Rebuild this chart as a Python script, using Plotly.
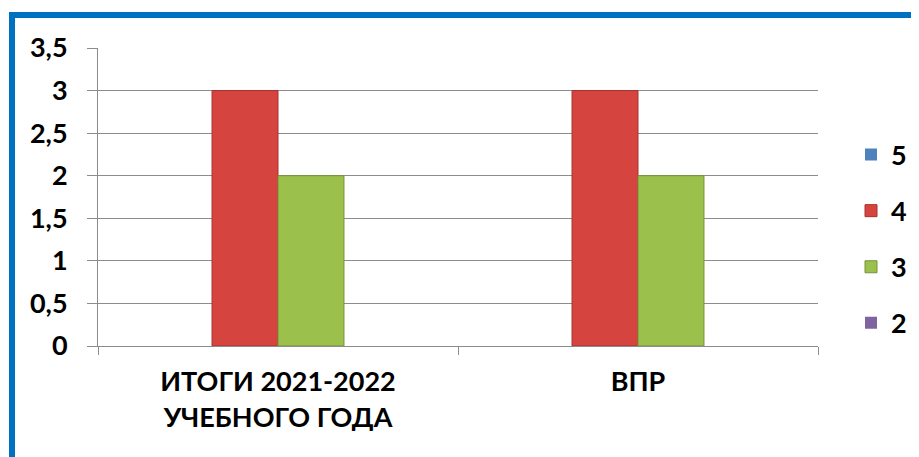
import plotly.graph_objects as go

categories = ["ИТОГИ 2021-2022<br>УЧЕБНОГО ГОДА", "ВПР"]
series_names = ["5", "4", "3", "2"]
values_5 = [0, 0]
values_4 = [3, 3]
values_3 = [2, 2]
values_2 = [0, 0]
y_ticks = [0, 0.5, 1, 1.5, 2, 2.5, 3, 3.5]

colors = ["#4F81BD", "#D5443F", "#9CC04C", "#8064A2"]
edges = ["#3A6496", "#A8322F", "#76923A", "#5F4A7A"]
all_values = [values_5, values_4, values_3, values_2]

FONT = "Lato"
OFF = 8  # page body margin
W, H = 919, 457
L, T = 98 - OFF, 48 - OFF
pw, ph = 720, 298
R, B = W - L - pw, H - T - ph

fig = go.Figure()
for name, vals, c, e in zip(series_names, all_values, colors, edges):
    fig.add_trace(go.Bar(
        x=categories, y=vals, name=name, legendgroup=name,
        marker=dict(color=c, line=dict(color=e, width=[1 if v else 0 for v in vals])),
    ))

def px_x(p):
    return (p - OFF - L) / pw

def px_y(p):
    return (T + ph - (p - OFF)) / ph

fig.update_layout(
    width=W, height=H,
    margin=dict(l=L, r=R, t=T, b=B),
    paper_bgcolor="white", plot_bgcolor="white",
    separators=", ",
    barmode="group", bargap=0.267, bargroupgap=0,
    font=dict(family=FONT, size=27, color="black", weight="bold"),
    showlegend=True,
    legend=dict(
        x=px_x(851), y=px_y(239), xanchor="left", yanchor="middle",
        traceorder="grouped", tracegroupgap=18,
        font=dict(family=FONT, size=27, color="black", weight="bold"),
        bgcolor="rgba(0,0,0,0)",
    ),
    xaxis=dict(
        showline=True, linecolor="#8C8C8C", linewidth=1,
        ticks="outside", tickson="boundaries", ticklen=8, tickcolor="#8C8C8C",
        showgrid=False,
        ticklabelstandoff=12,
        tickfont=dict(family=FONT, size=27, color="black", weight="bold"),
    ),
    yaxis=dict(
        range=[0, 3.5], tickvals=y_ticks,
        showline=True, linecolor="#8C8C8C", linewidth=1,
        ticks="outside", ticklen=10, tickcolor="#8C8C8C",
        showgrid=True, gridcolor="#8C8C8C", gridwidth=1,
        zeroline=False,
        ticklabelstandoff=14,
        tickfont=dict(family=FONT, size=27, color="black", weight="bold"),
    ),
    shapes=[dict(
        type="rect", xref="paper", yref="paper",
        x0=px_x(12), x1=px_x(940), y0=px_y(480), y1=px_y(15),
        line=dict(color="#0070C0", width=6), fillcolor="rgba(0,0,0,0)",
        layer="below",
    )],
)

fig.write_html("out.html")
